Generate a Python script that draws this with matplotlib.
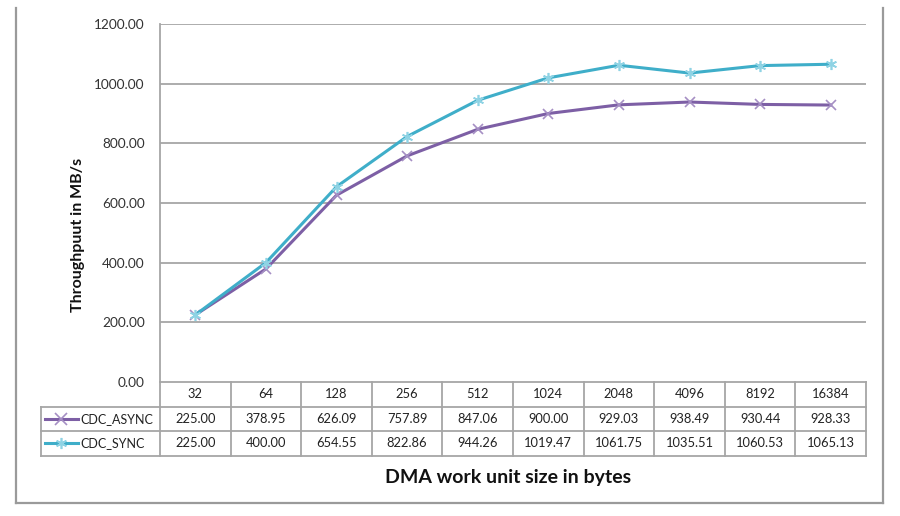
import matplotlib
matplotlib.use("Agg")
import matplotlib.pyplot as plt
from matplotlib.lines import Line2D

plt.rcParams['font.family'] = ['Lato', 'DejaVu Sans']

# data
sizes = ["32", "64", "128", "256", "512", "1024", "2048", "4096", "8192", "16384"]
cdc_async = [225.00, 378.95, 626.09, 757.89, 847.06, 900.00, 929.03, 938.49, 930.44, 928.33]
cdc_sync = [225.00, 400.00, 654.55, 822.86, 944.26, 1019.47, 1061.75, 1035.51, 1060.53, 1065.13]
y_ticks = [0, 200, 400, 600, 800, 1000, 1200]

purple = "#7D5FA5"
purple_mk = "#A58FC4"
cyan = "#3FAEC9"
cyan_mk = "#8FD3E4"
grid_col = "#A6A6A6"
txt = "#222222"

W, H = 900, 516
fig = plt.figure(figsize=(9, 5.16), dpi=100)

# plot area in pixels: x 160..866, y 24..382
left, right, top, bottom = 160, 866, 24, 382
ax = fig.add_axes([left / W, 1 - bottom / H, (right - left) / W, (bottom - top) / H])

x = list(range(len(sizes)))
ax.plot(x, cdc_async, color=purple, lw=2.2, zorder=3,
        marker="x", ms=7, mec=purple_mk, mew=1.2)
ax.plot(x, cdc_sync, color=cyan, lw=2.2, zorder=4,
        marker=(6, 2, 0), ms=8, mec=cyan_mk, mew=1.2)

ax.set_xlim(-0.5, len(sizes) - 0.5)
ax.set_ylim(0, 1200)
ax.set_yticks(y_ticks)
ax.set_yticklabels([f"{v:.2f}" for v in y_ticks], fontsize=9.8, color="#333333")
ax.set_xticks([])
ax.tick_params(axis="y", length=0, pad=11)
for v in y_ticks[1:]:
    ax.axhline(v, color=grid_col, lw=1.3, zorder=1)
for s in ["top", "right"]:
    ax.spines[s].set_visible(False)
ax.spines["left"].set_color(grid_col)
ax.spines["left"].set_linewidth(1.3)
ax.spines["bottom"].set_color(grid_col)
ax.spines["bottom"].set_linewidth(1.3)

fig.text(78 / W, 1 - 235 / H, "Throughpuut in MB/s", rotation=90, ha="center",
         va="center", fontsize=11.5, fontweight="bold", color="#111111")

# data table under the axis
ph = bottom - top
pw = right - left
row_h = 24.5 / ph
leg_left = (41 - left) / pw
n = len(sizes)
lc = dict(color=grid_col, lw=1.3, clip_on=False, transform=ax.transAxes)
tr = ax.get_xaxis_transform()

for k in (1, 2, 3):
    ax.add_line(Line2D([leg_left, 1], [-k * row_h, -k * row_h], **lc))
ax.add_line(Line2D([1, 1], [0, -3 * row_h], **lc))
ax.add_line(Line2D([leg_left, leg_left], [-row_h, -3 * row_h], **lc))
for i in range(n):
    xb = i / n
    ax.add_line(Line2D([xb, xb], [0, -3 * row_h], **lc))

for i, s in enumerate(sizes):
    ax.text(i, -0.5 * row_h, s, transform=tr, ha="center", va="center",
            fontsize=9.3, color=txt, clip_on=False)
    ax.text(i, -1.5 * row_h, f"{cdc_async[i]:.2f}", transform=tr, ha="center",
            va="center", fontsize=9.3, color=txt, clip_on=False)
    ax.text(i, -2.5 * row_h, f"{cdc_sync[i]:.2f}", transform=tr, ha="center",
            va="center", fontsize=9.3, color=txt, clip_on=False)

# legend keys inside the table
for k, (name, col, mk, mkc) in enumerate([("CDC_ASYNC", purple, "x", purple_mk),
                                          ("CDC_SYNC", cyan, (6, 2, 0), cyan_mk)]):
    yy = -(1.5 + k) * row_h
    x0 = (45 - left) / pw
    x1 = (78 - left) / pw
    xm = (61 - left) / pw
    ax.add_line(Line2D([x0, x1], [yy, yy], color=col, lw=2.2,
                       transform=ax.transAxes, clip_on=False))
    ax.add_line(Line2D([xm], [yy], marker=mk, ms=8, mec=mkc, mew=1.2, lw=0,
                       transform=ax.transAxes, clip_on=False))
    ax.text((80 - left) / pw, yy, name, transform=ax.transAxes, ha="left",
            va="center", fontsize=9, color=txt, clip_on=False)

fig.text(508 / W, 1 - 478 / H, "DMA work unit size in bytes", ha="center",
         va="center", fontsize=14, fontweight="bold", color="#111111")

# outer chart frame (no top edge visible)
fw = dict(color="#9A9A9A", lw=1.6, transform=fig.transFigure)
fig.add_artist(Line2D([16 / W, 16 / W], [1 - 8 / H, 1 - 503 / H], **fw))
fig.add_artist(Line2D([883 / W, 883 / W], [1 - 8 / H, 1 - 503 / H], **fw))
fig.add_artist(Line2D([16 / W, 883 / W], [1 - 503 / H, 1 - 503 / H], **fw))

fig.savefig("out.png", dpi=100)
